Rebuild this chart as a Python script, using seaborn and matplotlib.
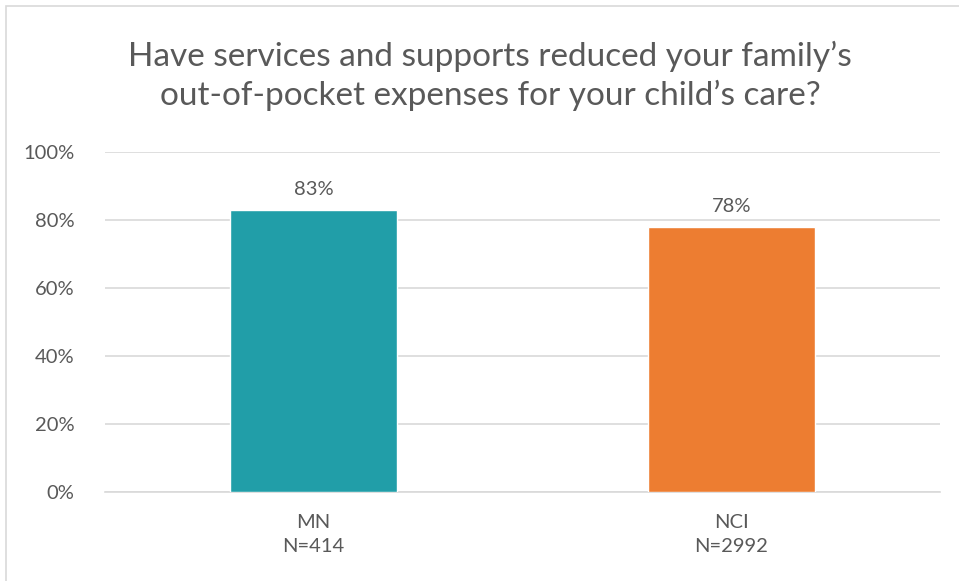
import matplotlib
matplotlib.use("Agg")
import matplotlib.pyplot as plt
import seaborn as sns
import pandas as pd
from matplotlib.patches import Rectangle

# data
groups = ["MN", "NCI"]
sample_sizes = ["N=414", "N=2992"]
pct_yes = [83, 78]
bar_colors = ["#219EA8", "#ED7D31"]

df = pd.DataFrame({"group": groups, "pct": pct_yes})

sns.set_style("white")
plt.rcParams["font.family"] = ["Lato", "DejaVu Sans"]
text_col = "#595959"

fig = plt.figure(figsize=(9.59, 5.81), dpi=100)
ax = fig.add_axes([105 / 959, 1 - 492 / 581, 835 / 959, 340 / 581])

sns.barplot(data=df, x="group", y="pct", hue="group", palette=bar_colors,
            width=0.40, legend=False, ax=ax, saturation=1, zorder=3)

ax.set_ylim(0, 100)
ax.set_yticks(range(0, 101, 20))
ax.set_yticklabels([f"{v}%" for v in range(0, 101, 20)], fontsize=14.5, color=text_col)
ax.set_xticks(range(len(groups)))
ax.set_xticklabels([f"{g}\n{n}" for g, n in zip(groups, sample_sizes)],
                   fontsize=14.5, color=text_col, linespacing=1.5)
ax.set_xlabel("")
ax.set_ylabel("")
ax.tick_params(axis="both", length=0, pad=16)
ax.tick_params(axis="y", pad=22)
ax.grid(axis="y", color="#D9D9D9", linewidth=1.2, zorder=0)
for s in ["top", "right", "left"]:
    ax.spines[s].set_visible(False)
ax.spines["bottom"].set_color("#D9D9D9")
ax.spines["bottom"].set_linewidth(1.2)

# value labels on top of bars
for i, v in enumerate(pct_yes):
    ax.text(i, v + 3.5, f"{v}%", ha="center", va="bottom", fontsize=14.5, color=text_col)

fig.text(490 / 959, 1 - 76 / 581,
         "Have services and supports reduced your family\u2019s\nout-of-pocket expenses for your child\u2019s care?",
         ha="center", va="center", fontsize=24, color=text_col, linespacing=1.3)

# light frame around the chart area
fig.patches.append(Rectangle((6 / 959, -0.01), 1.02, 1 - 6 / 581 + 0.01,
                             transform=fig.transFigure, fill=False,
                             edgecolor="#D9D9D9", linewidth=1.2))

fig.savefig("out.png", dpi=100)
